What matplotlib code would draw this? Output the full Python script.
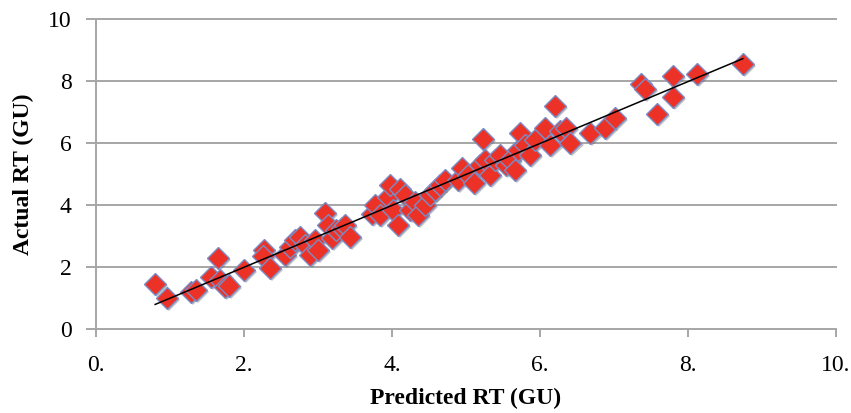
import numpy as np
import matplotlib.pyplot as plt
import matplotlib.patheffects as pe
from matplotlib.ticker import FuncFormatter

# values
predicted = [0.80, 0.96, 1.28, 1.35, 1.55, 1.65, 1.68, 1.74, 1.80, 2.00,
             2.27, 2.26, 2.35, 2.55, 2.62, 2.69, 2.76, 2.82, 2.89, 2.96,
             3.00, 3.09, 3.14, 3.19, 3.24, 3.32, 3.36, 3.43, 3.73, 3.77,
             3.84, 3.95, 3.97, 4.01, 4.08, 4.11, 4.18, 4.24, 4.31, 4.35,
             4.45, 4.51, 4.58, 4.65, 4.72, 4.89, 4.95, 5.03, 5.11, 5.19,
             5.26, 5.23, 5.32, 5.39, 5.46, 5.54, 5.59, 5.66, 5.70, 5.73,
             5.80, 5.86, 5.93, 6.07, 6.14, 6.20, 6.27, 6.35, 6.41, 6.68,
             6.88, 7.01, 7.36, 7.42, 7.58, 7.80, 7.80, 8.12, 8.74]
actual = [1.45, 1.00, 1.19, 1.25, 1.68, 2.29, 1.58, 1.35, 1.40, 1.90,
          2.55, 2.35, 1.97, 2.39, 2.65, 2.87, 2.97, 2.71, 2.39, 2.87,
          2.55, 3.74, 3.35, 2.94, 3.19, 3.26, 3.35, 2.97, 3.71, 4.00,
          3.68, 4.26, 4.65, 3.84, 3.35, 4.52, 4.32, 3.84, 4.10, 3.68,
          4.00, 4.32, 4.48, 4.65, 4.81, 4.81, 5.19, 4.97, 4.71, 5.29,
          5.45, 6.13, 4.97, 5.45, 5.61, 5.29, 5.45, 5.13, 5.77, 6.32,
          5.94, 5.61, 6.10, 6.48, 5.94, 7.19, 6.39, 6.48, 6.00, 6.32,
          6.48, 6.81, 7.90, 7.74, 6.94, 7.48, 8.16, 8.23, 8.55]

x_ticks = [0, 2, 4, 6, 8, 10]
y_ticks = [0, 2, 4, 6, 8, 10]

plt.rcParams['font.family'] = ['Liberation Serif', 'DejaVu Serif']

fig = plt.figure(figsize=(8.51, 4.13), dpi=100)
ax = fig.add_axes([0.1128, 0.2034, 0.8696, 0.7506])

for y in y_ticks[1:]:
    ax.axhline(y, color='#a6a6a6', lw=1.4, zorder=0, clip_on=False)

shadow = [pe.SimplePatchShadow(offset=(1.5, -1.5), shadow_rgbFace='#555555', alpha=0.35),
          pe.Normal()]
ax.plot(predicted, actual, linestyle='none', marker='D', ms=11.3,
        mfc='#ec3226', mec='#7b8bc4', mew=1.0, zorder=3, path_effects=shadow)

# linear trend line
p = np.polyfit(predicted, actual, 1)
xs = np.array([min(predicted), max(predicted)])
ax.plot(xs, np.polyval(p, xs), color='black', lw=1.1, zorder=4)

ax.set_xlim(0, 10)
ax.set_ylim(0, 10)
ax.set_xticks(x_ticks)
ax.set_yticks(y_ticks)
ax.xaxis.set_major_formatter(FuncFormatter(lambda v, pos: '%d.' % v))
ax.yaxis.set_major_formatter(FuncFormatter(lambda v, pos: '%d' % v))

for s in ['top', 'right']:
    ax.spines[s].set_visible(False)
for s in ['left', 'bottom']:
    ax.spines[s].set_color('#a6a6a6')
    ax.spines[s].set_linewidth(1.4)

ax.tick_params(direction='out', width=1.4, color='#a6a6a6', labelsize=17)
ax.tick_params(axis='x', length=6, pad=13)
ax.tick_params(axis='y', length=7.5, pad=10)

ax.set_xlabel('Predicted RT (GU)', fontsize=17, fontweight='bold', labelpad=8)
ax.set_ylabel('Actual RT (GU)', fontsize=17, fontweight='bold', labelpad=10)

fig.savefig('out.png', dpi=100)
